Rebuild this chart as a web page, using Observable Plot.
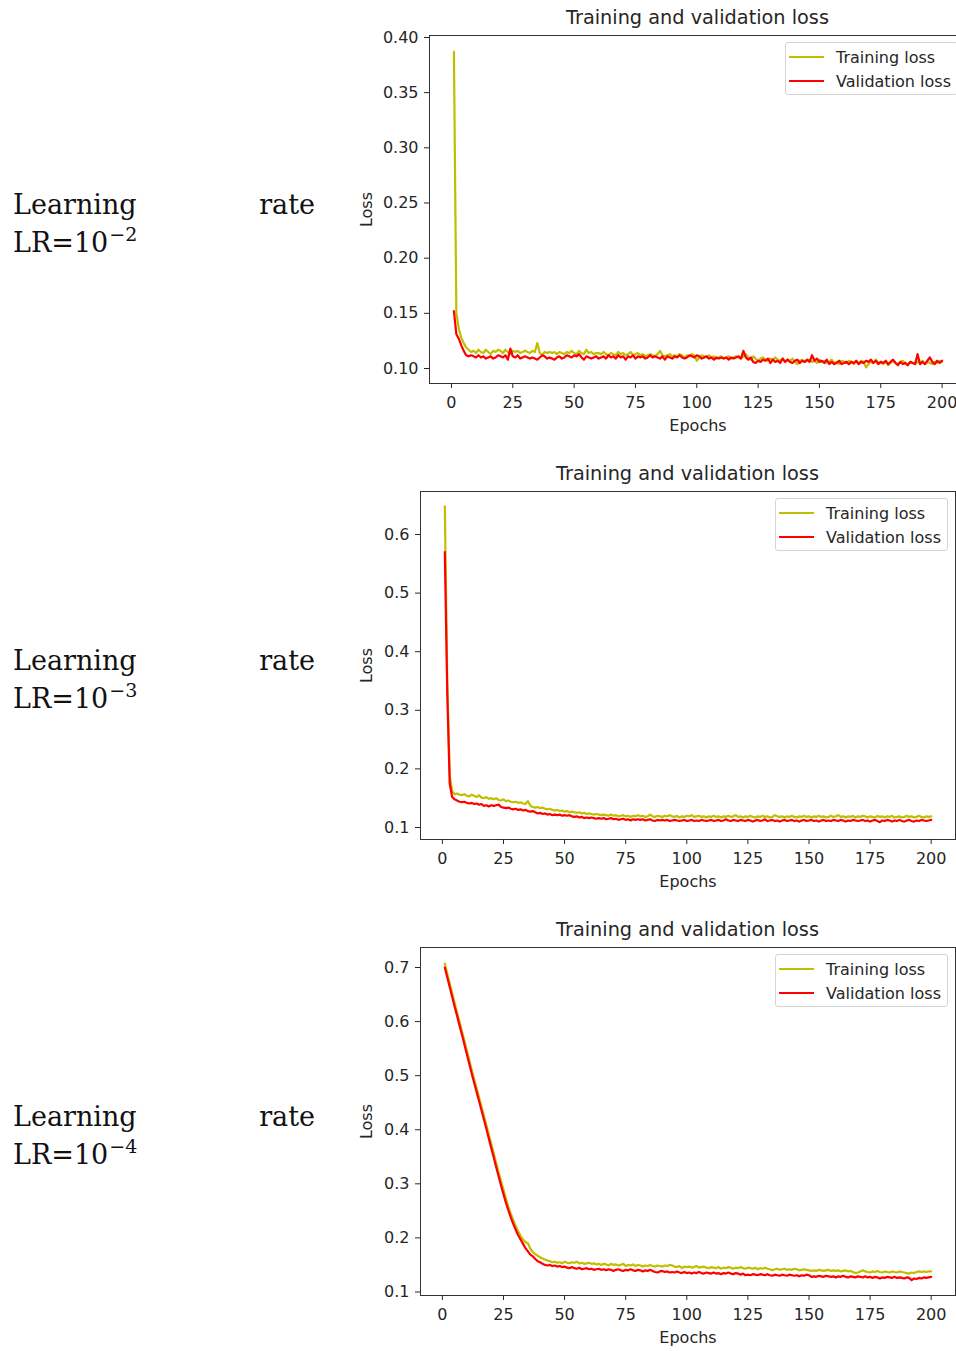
<!DOCTYPE html>
<html>
<head>
<meta charset="utf-8">
<script src="https://cdn.jsdelivr.net/npm/d3@7"></script>
<script src="https://cdn.jsdelivr.net/npm/@observablehq/plot@0.6"></script>
<style>
html, body { margin: 0; padding: 0; background: #fff; }
body { width: 956px; height: 1351px; position: relative; overflow: hidden; }
.lr { position: absolute; left: 13px; width: 302px; font-family: "DejaVu Serif", serif; font-size: 27px; line-height: 38px; color: #111; }
.lr .row1 { display: flex; justify-content: space-between; }
.lr sup { font-size: 19px; line-height: 0; vertical-align: 11px; margin-left: 1px; }
.title { position: absolute; font-family: "DejaVu Sans", sans-serif; font-size: 19.3px; line-height: 20px; text-align: center; color: #262626; white-space: nowrap; }
.plotbox { position: absolute; left: 340px; }
.legend { position: absolute; width: 171px; height: 51px; border: 1px solid #d4d4d4; border-radius: 3px; background: rgba(255,255,255,0.85); font-family: "DejaVu Sans", sans-serif; font-size: 16px; color: #262626; box-sizing: content-box; }
.legend .row { position: absolute; left: 0; height: 24px; display: flex; align-items: center; white-space: nowrap; }
.legend .sw { display: inline-block; width: 35px; height: 2.5px; margin-left: 3px; margin-right: 12px; }
</style>
</head>
<body>
<script>
// ---------- data ----------
const epochs = d3.range(1, 201);
const xTicks = [0, 25, 50, 75, 100, 125, 150, 175, 200];
const yTicksLR2 = [0.10, 0.15, 0.20, 0.25, 0.30, 0.35, 0.40];
const yTicksLR3 = [0.1, 0.2, 0.3, 0.4, 0.5, 0.6];
const yTicksLR4 = [0.1, 0.2, 0.3, 0.4, 0.5, 0.6, 0.7];
const seriesNames = ["Training loss", "Validation loss"];
const seriesColors = ["#bfbf00", "#ff0000"];
const lrExponents = ["−2", "−3", "−4"];
const chartTitle = "Training and validation loss";

const trainLR2 = [
0.387,0.150,0.136,0.128,0.123,0.119,0.117,0.115,0.116,0.114,
0.117,0.115,0.114,0.117,0.115,0.113,0.116,0.115,0.117,0.116,
0.114,0.117,0.115,0.113,0.116,0.115,0.116,0.114,0.115,0.116,
0.115,0.114,0.116,0.115,0.123,0.114,0.112,0.115,0.114,0.115,
0.114,0.115,0.113,0.115,0.114,0.113,0.115,0.114,0.116,0.114,
0.113,0.116,0.114,0.113,0.117,0.114,0.115,0.113,0.114,0.114,
0.113,0.115,0.113,0.112,0.114,0.113,0.112,0.115,0.113,0.114,
0.112,0.113,0.115,0.112,0.113,0.114,0.112,0.113,0.111,0.112,
0.113,0.112,0.111,0.113,0.116,0.112,0.111,0.112,0.113,0.111,
0.112,0.111,0.113,0.112,0.110,0.112,0.111,0.113,0.112,0.107,
0.110,0.112,0.111,0.110,0.112,0.110,0.111,0.109,0.110,0.111,
0.109,0.110,0.111,0.109,0.110,0.111,0.110,0.109,0.111,0.113,
0.110,0.108,0.111,0.109,0.107,0.109,0.110,0.108,0.107,0.109,
0.108,0.110,0.108,0.107,0.109,0.106,0.108,0.107,0.109,0.106,
0.104,0.107,0.108,0.106,0.107,0.108,0.106,0.107,0.105,0.108,
0.106,0.107,0.105,0.106,0.108,0.105,0.106,0.104,0.107,0.106,
0.105,0.107,0.106,0.104,0.106,0.105,0.107,0.106,0.101,0.104,
0.106,0.105,0.108,0.105,0.106,0.104,0.106,0.103,0.105,0.107,
0.105,0.104,0.106,0.107,0.105,0.103,0.106,0.105,0.104,0.106,
0.105,0.107,0.104,0.106,0.105,0.104,0.106,0.105,0.107,0.106];

const valLR2 = [
0.152,0.131,0.127,0.121,0.116,0.112,0.111,0.112,0.111,0.110,
0.112,0.110,0.111,0.109,0.110,0.111,0.109,0.110,0.112,0.111,
0.110,0.112,0.108,0.118,0.111,0.110,0.112,0.109,0.110,0.111,
0.110,0.109,0.110,0.109,0.108,0.110,0.112,0.111,0.109,0.110,
0.109,0.108,0.110,0.111,0.109,0.110,0.112,0.111,0.110,0.112,
0.111,0.113,0.110,0.108,0.111,0.110,0.109,0.110,0.111,0.109,
0.110,0.111,0.109,0.112,0.110,0.111,0.109,0.112,0.110,0.111,
0.108,0.111,0.110,0.112,0.109,0.111,0.110,0.111,0.109,0.110,
0.112,0.110,0.111,0.110,0.109,0.111,0.108,0.111,0.110,0.109,
0.111,0.110,0.112,0.110,0.109,0.110,0.112,0.111,0.110,0.112,
0.111,0.109,0.110,0.111,0.109,0.110,0.108,0.110,0.109,0.110,
0.109,0.110,0.108,0.110,0.109,0.110,0.111,0.109,0.116,0.110,
0.108,0.110,0.106,0.105,0.107,0.106,0.108,0.107,0.109,0.105,
0.108,0.106,0.107,0.105,0.109,0.106,0.108,0.106,0.105,0.107,
0.108,0.105,0.107,0.106,0.108,0.106,0.112,0.107,0.109,0.106,
0.107,0.105,0.108,0.104,0.106,0.104,0.105,0.107,0.104,0.105,
0.106,0.104,0.106,0.105,0.107,0.104,0.106,0.105,0.107,0.106,
0.108,0.105,0.107,0.104,0.106,0.105,0.107,0.104,0.106,0.108,
0.105,0.103,0.106,0.104,0.105,0.103,0.106,0.105,0.104,0.113,
0.104,0.106,0.104,0.107,0.110,0.106,0.104,0.107,0.105,0.107];

const trainLR3 = [
0.648,0.350,0.190,0.162,0.157,0.158,0.156,0.155,0.157,0.154,
0.153,0.156,0.154,0.152,0.155,0.151,0.150,0.152,0.149,0.150,
0.148,0.150,0.147,0.146,0.148,0.145,0.146,0.144,0.143,0.144,
0.142,0.143,0.141,0.140,0.145,0.137,0.135,0.134,0.135,0.133,
0.134,0.132,0.131,0.132,0.130,0.129,0.130,0.128,0.129,0.127,
0.128,0.126,0.127,0.126,0.125,0.126,0.124,0.125,0.123,0.124,
0.123,0.122,0.123,0.122,0.121,0.122,0.121,0.120,0.122,0.120,
0.121,0.119,0.120,0.121,0.119,0.120,0.118,0.120,0.119,0.121,
0.119,0.120,0.118,0.119,0.122,0.119,0.118,0.120,0.119,0.118,
0.120,0.119,0.121,0.119,0.118,0.120,0.117,0.119,0.118,0.120,
0.119,0.121,0.118,0.119,0.120,0.118,0.119,0.117,0.119,0.118,
0.120,0.118,0.119,0.117,0.119,0.118,0.120,0.118,0.119,0.121,
0.118,0.119,0.117,0.119,0.118,0.120,0.118,0.117,0.119,0.118,
0.120,0.118,0.119,0.117,0.118,0.121,0.119,0.118,0.119,0.117,
0.119,0.118,0.120,0.118,0.117,0.119,0.118,0.120,0.118,0.119,
0.117,0.119,0.118,0.120,0.118,0.119,0.117,0.118,0.120,0.118,
0.119,0.121,0.118,0.119,0.117,0.119,0.118,0.120,0.117,0.119,
0.118,0.120,0.119,0.117,0.119,0.118,0.117,0.120,0.118,0.119,
0.117,0.119,0.118,0.120,0.117,0.118,0.119,0.117,0.118,0.120,
0.118,0.119,0.117,0.118,0.120,0.118,0.117,0.119,0.118,0.119];

const valLR3 = [
0.570,0.330,0.175,0.152,0.148,0.146,0.144,0.143,0.144,0.142,
0.141,0.142,0.140,0.141,0.139,0.140,0.137,0.138,0.136,0.138,
0.137,0.138,0.139,0.135,0.134,0.133,0.134,0.132,0.131,0.132,
0.130,0.131,0.129,0.130,0.128,0.127,0.128,0.126,0.124,0.125,
0.123,0.124,0.122,0.123,0.121,0.122,0.121,0.122,0.120,0.121,
0.120,0.121,0.119,0.118,0.119,0.117,0.118,0.116,0.117,0.116,
0.117,0.116,0.115,0.116,0.115,0.116,0.114,0.115,0.116,0.114,
0.115,0.113,0.114,0.115,0.113,0.114,0.112,0.114,0.113,0.114,
0.113,0.114,0.112,0.113,0.114,0.112,0.111,0.113,0.112,0.113,
0.112,0.113,0.111,0.112,0.113,0.112,0.111,0.112,0.113,0.111,
0.112,0.113,0.111,0.112,0.111,0.113,0.112,0.111,0.112,0.113,
0.111,0.112,0.113,0.111,0.112,0.114,0.112,0.111,0.113,0.112,
0.111,0.113,0.112,0.111,0.113,0.112,0.110,0.112,0.113,0.111,
0.112,0.114,0.111,0.112,0.113,0.111,0.112,0.110,0.112,0.113,
0.111,0.112,0.113,0.111,0.112,0.110,0.112,0.113,0.111,0.112,
0.113,0.111,0.112,0.110,0.112,0.113,0.111,0.112,0.111,0.113,
0.112,0.111,0.113,0.112,0.110,0.112,0.111,0.113,0.112,0.111,
0.112,0.113,0.111,0.112,0.110,0.112,0.113,0.111,0.109,0.112,
0.111,0.113,0.112,0.110,0.112,0.111,0.113,0.111,0.110,0.112,
0.113,0.111,0.110,0.112,0.111,0.113,0.112,0.111,0.112,0.113];

const trainLR4 = [
0.707,0.689,0.671,0.653,0.635,0.617,0.600,0.582,0.565,0.547,
0.529,0.511,0.494,0.477,0.460,0.443,0.426,0.409,0.391,0.374,
0.357,0.339,0.322,0.305,0.289,0.273,0.258,0.245,0.233,0.222,
0.212,0.204,0.197,0.192,0.190,0.180,0.174,0.170,0.167,0.164,
0.162,0.160,0.158,0.157,0.155,0.156,0.154,0.155,0.153,0.156,
0.154,0.153,0.155,0.154,0.156,0.153,0.154,0.152,0.153,0.154,
0.152,0.153,0.151,0.152,0.150,0.152,0.151,0.149,0.152,0.150,
0.151,0.149,0.150,0.152,0.148,0.150,0.149,0.151,0.148,0.150,
0.149,0.147,0.149,0.148,0.150,0.148,0.147,0.149,0.148,0.147,
0.149,0.148,0.150,0.149,0.147,0.146,0.148,0.144,0.147,0.146,
0.147,0.145,0.146,0.148,0.145,0.146,0.147,0.145,0.144,0.146,
0.145,0.144,0.146,0.143,0.145,0.144,0.146,0.145,0.143,0.145,
0.144,0.146,0.144,0.143,0.145,0.144,0.143,0.145,0.142,0.144,
0.143,0.145,0.143,0.142,0.140,0.142,0.143,0.141,0.142,0.143,
0.141,0.142,0.141,0.143,0.142,0.140,0.141,0.142,0.141,0.140,
0.139,0.140,0.139,0.141,0.140,0.139,0.140,0.141,0.139,0.140,
0.139,0.140,0.138,0.139,0.140,0.138,0.139,0.137,0.135,0.136,
0.138,0.140,0.138,0.137,0.136,0.138,0.137,0.139,0.137,0.136,
0.138,0.137,0.136,0.138,0.137,0.136,0.138,0.137,0.136,0.135,
0.134,0.136,0.135,0.137,0.138,0.137,0.138,0.137,0.138,0.138];

const valLR4 = [
0.700,0.682,0.664,0.646,0.628,0.611,0.593,0.576,0.558,0.540,
0.522,0.504,0.487,0.470,0.453,0.436,0.419,0.402,0.384,0.366,
0.349,0.331,0.314,0.297,0.281,0.265,0.251,0.238,0.226,0.215,
0.205,0.197,0.189,0.181,0.175,0.169,0.166,0.161,0.157,0.155,
0.152,0.150,0.149,0.150,0.148,0.149,0.147,0.148,0.146,0.147,
0.145,0.144,0.146,0.144,0.143,0.145,0.142,0.143,0.144,0.142,
0.143,0.141,0.142,0.143,0.141,0.142,0.140,0.142,0.141,0.139,
0.141,0.142,0.140,0.139,0.141,0.140,0.142,0.140,0.139,0.141,
0.140,0.138,0.140,0.139,0.141,0.139,0.137,0.136,0.138,0.139,
0.137,0.138,0.136,0.137,0.136,0.138,0.136,0.135,0.137,0.135,
0.136,0.134,0.136,0.135,0.137,0.135,0.134,0.136,0.135,0.134,
0.136,0.134,0.135,0.133,0.135,0.134,0.136,0.134,0.133,0.135,
0.134,0.132,0.134,0.131,0.132,0.131,0.133,0.132,0.131,0.133,
0.132,0.131,0.133,0.131,0.130,0.132,0.131,0.130,0.132,0.131,
0.130,0.132,0.131,0.130,0.131,0.129,0.131,0.130,0.132,0.131,
0.128,0.129,0.128,0.130,0.129,0.128,0.130,0.129,0.128,0.129,
0.127,0.129,0.128,0.130,0.128,0.127,0.129,0.128,0.127,0.129,
0.128,0.127,0.129,0.127,0.128,0.126,0.128,0.127,0.125,0.127,
0.126,0.128,0.127,0.126,0.128,0.126,0.127,0.126,0.125,0.127,
0.126,0.122,0.125,0.124,0.126,0.125,0.127,0.126,0.127,0.128];

// ---------- layout (page pixels) ----------
const panels = [
  {train: trainLR2, val: valLR2, yDomain: [0.0864, 0.4018], yTicks: yTicksLR2, fmt: ".2f", L: 429, R: 966, T: 35,  B: 383,  legL: 785, exp: lrExponents[0]},
  {train: trainLR3, val: valLR3, yDomain: [0.0795, 0.6734], yTicks: yTicksLR3, fmt: ".1f", L: 420, R: 955, T: 491, B: 839,  legL: 775, exp: lrExponents[1]},
  {train: trainLR4, val: valLR4, yDomain: [0.0935, 0.7370], yTicks: yTicksLR4, fmt: ".1f", L: 420, R: 955, T: 947, B: 1295, legL: 775, exp: lrExponents[2]}
];
const svgLeft = 340, mt = 10, mb = 56;

for (const p of panels) {
  // left-hand label
  const lr = document.createElement("div");
  lr.className = "lr";
  lr.style.top = (p.T + 151) + "px";
  lr.innerHTML = `<div class="row1"><span>Learning</span><span>rate</span></div><div>LR=10<sup>${p.exp}</sup></div>`;
  document.body.appendChild(lr);

  // title
  const t = document.createElement("div");
  t.className = "title";
  t.style.left = p.L + "px";
  t.style.width = (p.R - p.L) + "px";
  t.style.top = (p.T - 27) + "px";
  t.textContent = chartTitle;
  document.body.appendChild(t);

  // chart
  const chart = Plot.plot({
    width: p.R - svgLeft + 1,
    height: mt + (p.B - p.T) + mb,
    marginLeft: p.L - svgLeft,
    marginRight: 1,
    marginTop: mt,
    marginBottom: mb,
    style: {fontFamily: "DejaVu Sans, sans-serif", fontSize: "16px", color: "#262626", background: "transparent", maxWidth: "none", overflow: "visible"},
    x: {domain: [-8.95, 209.95]},
    y: {domain: p.yDomain},
    marks: [
      Plot.line(p.train, {x: (d, i) => epochs[i], y: d => d, stroke: seriesColors[0], strokeWidth: 2.2}),
      Plot.line(p.val, {x: (d, i) => epochs[i], y: d => d, stroke: seriesColors[1], strokeWidth: 2.2}),
      Plot.frame({stroke: "#333", strokeWidth: 1}),
      Plot.axisX({ticks: xTicks, tickFormat: d3.format("d"), tickSize: 5, tickPadding: 8, label: "Epochs", labelAnchor: "center", labelArrow: "none", labelOffset: 47}),
      Plot.axisY({ticks: p.yTicks, tickFormat: d3.format(p.fmt), tickSize: 5, tickPadding: 6, label: "Loss", labelAnchor: "center", labelArrow: "none", labelOffset: p.L - 360})
    ]
  });
  const box = document.createElement("div");
  box.className = "plotbox";
  box.style.top = (p.T - mt) + "px";
  box.appendChild(chart);
  document.body.appendChild(box);

  // legend
  const leg = document.createElement("div");
  leg.className = "legend";
  leg.style.left = p.legL + "px";
  leg.style.top = (p.T + 7) + "px";
  seriesNames.forEach((name, i) => {
    const row = document.createElement("div");
    row.className = "row";
    row.style.top = (2 + 24 * i) + "px";
    row.innerHTML = `<span class="sw" style="background:${seriesColors[i]}"></span><span>${name}</span>`;
    leg.appendChild(row);
  });
  document.body.appendChild(leg);
}
</script>
</body>
</html>
